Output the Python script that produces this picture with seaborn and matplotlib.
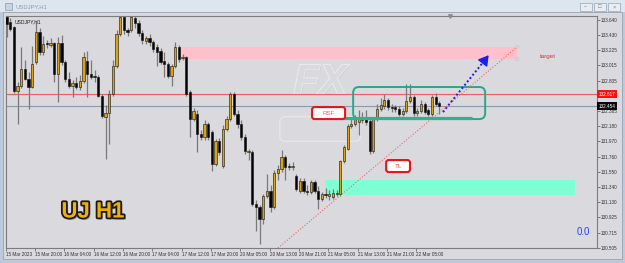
import numpy as np
import pandas as pd
import matplotlib
matplotlib.use("Agg")
import matplotlib.pyplot as plt
import matplotlib.patheffects as pe
from matplotlib.patches import Rectangle, FancyBboxPatch
import seaborn as sns

# ---------------- data (USDJPY H1) ----------------
opens = [133.681, 133.612, 133.544, 132.663, 132.731, 132.965, 132.828, 132.718, 133.061, 133.474,
         133.199, 133.324, 133.296, 133.324, 132.897, 133.324, 133.061, 132.828, 132.731, 132.773,
         132.718, 132.800, 133.075, 132.897, 132.869, 132.856, 132.594, 132.305, 132.360, 132.622,
         133.006, 133.447, 133.681, 133.502, 133.502, 133.667, 133.599, 133.461, 133.351, 133.392,
         133.337, 133.269, 133.213, 133.075, 133.034, 132.869, 133.006, 133.269, 133.117, 133.131,
         132.649, 132.277, 132.346, 132.071, 132.030, 132.209, 132.098, 131.658, 131.975, 131.630,
         132.139, 132.277, 132.622, 132.346, 132.209, 132.030, 131.823, 131.823, 131.108, 131.067,
         130.901, 131.218, 131.287, 131.067, 131.534, 131.589, 131.754, 131.630, 131.616, 131.493,
         131.287, 131.424, 131.287, 131.273, 131.411, 131.287, 131.177, 131.246, 131.218, 131.204,
         131.246, 131.246, 131.699, 131.865, 132.181, 132.209, 132.236, 132.264, 132.277, 132.250,
         131.837, 132.277, 132.415, 132.456, 132.539, 132.442, 132.442, 132.415, 132.346, 132.387,
         132.525, 132.581, 132.360, 132.387, 132.484, 132.401, 132.346, 132.581, 132.498]
highs = [133.708, 133.667, 133.557, 132.786, 133.269, 133.089, 132.924, 133.282, 133.626, 133.530,
         133.419, 133.365, 133.392, 133.337, 133.406, 133.433, 133.089, 132.924, 132.814, 132.856,
         132.883, 133.199, 133.213, 133.089, 132.952, 132.883, 132.622, 132.470, 132.677, 133.089,
         133.502, 133.694, 133.694, 133.530, 133.694, 133.694, 133.640, 133.502, 133.419, 133.447,
         133.365, 133.310, 133.255, 133.199, 133.061, 133.034, 133.337, 133.296, 133.172, 133.144,
         132.677, 132.429, 132.401, 132.126, 132.264, 132.236, 132.126, 132.003, 132.016, 132.195,
         132.318, 132.649, 132.649, 132.401, 132.264, 132.071, 131.865, 131.851, 131.163, 131.094,
         131.246, 131.521, 131.369, 131.576, 131.644, 131.851, 131.782, 131.671, 131.685, 131.521,
         131.466, 131.466, 131.369, 131.438, 131.438, 131.356, 131.273, 131.328, 131.301, 131.314,
         131.301, 131.713, 131.920, 132.209, 132.277, 132.332, 132.401, 132.373, 132.401, 132.291,
         132.305, 132.484, 132.567, 132.622, 132.567, 132.484, 132.470, 132.456, 132.429, 132.759,
         132.759, 132.608, 132.429, 132.539, 132.511, 132.429, 132.608, 132.636, 132.525]
lows = [133.406, 133.488, 132.636, 132.209, 132.704, 132.814, 132.415, 132.704, 133.034, 133.158,
        133.158, 133.255, 133.269, 132.786, 132.511, 133.020, 132.786, 132.704, 132.581, 132.690,
        132.677, 132.773, 132.581, 132.828, 132.786, 132.581, 132.291, 131.727, 131.934, 132.594,
        132.979, 133.419, 133.447, 133.419, 133.474, 133.530, 133.419, 133.310, 133.310, 133.282,
        133.199, 133.006, 133.034, 132.856, 132.842, 132.731, 132.979, 133.061, 133.089, 132.594,
        132.030, 132.250, 131.823, 131.989, 131.989, 131.989, 131.562, 131.630, 131.782, 131.603,
        132.112, 132.250, 132.318, 132.154, 131.989, 131.796, 131.713, 131.080, 130.736, 130.558,
        130.833, 131.191, 130.998, 131.039, 131.438, 131.548, 131.438, 131.576, 131.576, 131.287,
        131.259, 131.259, 131.232, 131.246, 131.259, 131.039, 131.149, 131.191, 131.163, 131.177,
        131.218, 131.218, 131.671, 131.851, 132.154, 132.181, 132.057, 132.222, 132.195, 131.796,
        131.810, 132.250, 132.387, 132.415, 132.401, 132.373, 132.373, 132.318, 132.318, 132.360,
        132.498, 132.318, 132.318, 132.360, 132.346, 132.318, 132.318, 132.456, 132.346]
closes = [133.585, 133.516, 132.663, 132.731, 132.965, 132.828, 132.718, 133.034, 133.474, 133.199,
          133.310, 133.310, 133.324, 132.897, 133.324, 133.061, 132.828, 132.731, 132.773, 132.718,
          132.800, 133.131, 132.897, 132.856, 132.856, 132.594, 132.318, 132.360, 132.622, 133.006,
          133.447, 133.681, 133.502, 133.474, 133.681, 133.599, 133.461, 133.365, 133.392, 133.337,
          133.241, 133.199, 133.061, 133.034, 132.869, 133.006, 133.269, 133.103, 133.131, 132.622,
          132.277, 132.387, 132.071, 132.030, 132.209, 132.030, 131.658, 131.975, 131.823, 132.139,
          132.277, 132.622, 132.346, 132.209, 132.030, 131.837, 131.837, 131.108, 131.067, 130.901,
          131.218, 131.287, 131.067, 131.534, 131.589, 131.754, 131.616, 131.616, 131.630, 131.314,
          131.424, 131.287, 131.273, 131.411, 131.287, 131.177, 131.246, 131.232, 131.246, 131.259,
          131.259, 131.699, 131.892, 132.181, 132.209, 132.277, 132.277, 132.277, 132.236, 131.837,
          132.277, 132.415, 132.470, 132.539, 132.442, 132.429, 132.415, 132.346, 132.387, 132.525,
          132.581, 132.360, 132.387, 132.484, 132.373, 132.346, 132.581, 132.484, 132.456]

time_labels = ["15 Mar 2023", "15 Mar 20:00", "16 Mar 04:00", "16 Mar 12:00", "16 Mar 20:00",
               "17 Mar 04:00", "17 Mar 12:00", "17 Mar 20:00", "20 Mar 05:00", "20 Mar 13:00",
               "20 Mar 21:00", "21 Mar 05:00", "21 Mar 13:00", "21 Mar 21:00", "22 Mar 05:00"]
price_ticks = [133.640, 133.430, 133.225, 133.015, 132.805, 132.595, 132.385, 132.180,
               131.970, 131.760, 131.550, 131.340, 131.130, 130.925, 130.715, 130.505]
resistance_level = 132.617
bid_level = 132.454
supply_zone = [133.103, 133.269]
demand_zone = [131.232, 131.438]
range_box = [132.277, 132.718]
range_floor = 132.298
trend_prices = [130.503, 133.269]
projection_prices = [132.373, 133.186]

# ---------------- figure ----------------
sns.set_theme(style="white")
plt.rcParams["font.family"] = ["Liberation Sans", "DejaVu Sans"]

W, H = 625, 263
fig = plt.figure(figsize=(W / 100, H / 100), dpi=100)
fig.patch.set_facecolor("#bccadb")


def rect_px(x0, y0, x1, y1, z=-10, **kw):
    r = Rectangle((x0 / W, 1 - y1 / H), (x1 - x0) / W, (y1 - y0) / H,
                  transform=fig.transFigure, zorder=z, **kw)
    fig.add_artist(r)
    return r


# window chrome
rect_px(0, 0, 625, 12, fc="#dde5ef", ec="none")
rect_px(3, 12, 622, 259, fc="#d9d9de", ec="#98a4b4", lw=0.6)
rect_px(5, 3, 12, 10, fc="#c9d3df", ec="#8f9db0", lw=0.5)
fig.text(15 / W, 1 - 6.5 / H, "USDJPY,H1", fontsize=4.2, color="#8e9aab", va="center")
for bx, sym in [(580, "–"), (594, "□"), (608, "×")]:
    rect_px(bx, 3, bx + 12, 11, fc="#e8edf3", ec="#98a5b7", lw=0.5)
    fig.text((bx + 6) / W, 1 - 7 / H, sym, fontsize=4, color="#6f7c8e", ha="center", va="center")

ax = fig.add_axes([5.5 / W, 1 - 248 / H, (597 - 5.5) / W, (248 - 16) / H])
ax.set_facecolor("#d9d9de")
ax.set_zorder(1)

df = pd.DataFrame({"o": opens, "h": highs, "l": lows, "c": closes})
df["i"] = np.arange(len(df))
bull = df["c"] >= df["o"]

# zones
ax.add_patch(Rectangle((47.6, supply_zone[0]), 139.2 - 47.6, supply_zone[1] - supply_zone[0],
                       fc="#ffc0cb", ec="none", zorder=1))
ax.add_patch(Rectangle((86.9, demand_zone[0]), 155.0 - 86.9, demand_zone[1] - demand_zone[0],
                       fc="#7fffd4", ec="none", zorder=1))

# watermark (embossed logo)
ax.text(85.5, 132.78, "FX", fontsize=30, fontweight="bold", fontstyle="italic",
        color="#d9d9de", ha="center", va="center", zorder=1.5,
        path_effects=[pe.withSimplePatchShadow(offset=(0.8, -0.8), shadow_rgbFace="#b8b8bd", alpha=0.6),
                      pe.withStroke(linewidth=1.3, foreground="#ececf0")])
ax.add_patch(FancyBboxPatch((74.5, 131.97), 22, 0.34,
                            boxstyle="round,pad=0,rounding_size=1.5", mutation_aspect=0.0505,
                            fc="none", ec="#e6e6ea", lw=1.0, zorder=1.5))

# horizontal levels
ax.axhline(resistance_level, color="#f25c5c", lw=0.8, zorder=2)
ax.axhline(bid_level, color="#8d9aa8", lw=0.8, zorder=2)

# candles
ax.vlines(df["i"], df["l"], df["h"], color="#7a7a7a", lw=0.9, zorder=3)
body = (df["c"] - df["o"]).where((df["c"] - df["o"]).abs() > 0.004,
                                 np.sign(df["c"] - df["o"] + 1e-9) * 0.004)
ax.bar(df["i"], body, bottom=df["o"], width=0.62,
       color=np.where(bull, "#d9a21b", "#050505"), edgecolor="#111111", linewidth=0.4, zorder=4)

# range box
ax.add_patch(FancyBboxPatch((94.5, range_box[0]), 130.5 - 94.5, range_box[1] - range_box[0],
                            boxstyle="round,pad=0,rounding_size=1.6", mutation_aspect=0.0505,
                            fc="none", ec="#27a88b", lw=1.4, zorder=5))
ax.plot([90.9, 126.9], [range_floor, range_floor], color="#2db38e", lw=2.3,
        solid_capstyle="butt", zorder=5)

# trend line and projection
trend = pd.DataFrame({"x": [74.0, 139.2], "y": trend_prices})
sns.lineplot(data=trend, x="x", y="y", ax=ax, color="#f06868", lw=0.8,
             linestyle=(0, (1, 1.6)), zorder=6)
ax.plot([139.2], [trend_prices[1]], marker="s", ms=1.6, mfc="white", mec="#999999", mew=0.3, zorder=7)
ax.plot([139.2], [supply_zone[0]], marker="s", ms=1.6, mfc="white", mec="#999999", mew=0.3, zorder=7)
proj = pd.DataFrame({"x": [119.0, 131.4], "y": [projection_prices[0], 133.150]})
sns.lineplot(data=proj, x="x", y="y", ax=ax, color="#1c1cf0", lw=1.4,
             linestyle=(0, (1, 1.2)), zorder=6)
ax.annotate("", xy=(131.9, projection_prices[1]), xytext=(130.6, 133.100),
            arrowprops=dict(arrowstyle="-|>,head_length=0.5,head_width=0.3", color="#1c1cf0", lw=1.0),
            zorder=7)

# label boxes
for x0, x1, y0, y1, txt in [(83.3, 92.3, 132.277, 132.442, "RSF"),
                            (103.5, 110.0, 131.548, 131.713, "TL")]:
    ax.add_patch(FancyBboxPatch((x0, y0), x1 - x0, y1 - y0,
                                boxstyle="round,pad=0,rounding_size=0.7", mutation_aspect=0.0505,
                                fc="white", ec="#e8151b", lw=1.5, zorder=8))
    ax.text((x0 + x1) / 2, (y0 + y1) / 2, txt, fontsize=4.5, color="#ee5a5a",
            ha="center", va="center", zorder=9)

ax.text(147.7, 133.144, "target", fontsize=4.5, color="#cc3b3b", ha="center", va="center", zorder=9)
ax.text(0.015, 0.985, "USDJPY,H1", transform=ax.transAxes, fontsize=3.6, color="#222222",
        ha="left", va="top", zorder=9)

# axes formatting
ax.set_xlim(-0.27, 161.0)
ax.set_ylim(130.503, 133.695)
ax.set_xlabel("")
ax.set_ylabel("")
ax.yaxis.tick_right()
ax.set_yticks(price_ticks)
ax.set_yticklabels([f"{v:.3f}" for v in price_ticks], fontsize=3.3, color="#333333")
ax.set_xticks(np.arange(len(time_labels)) * 8 - 0.3)
ax.set_xticklabels(time_labels, fontsize=3.3, color="#333333", ha="left")
ax.tick_params(axis="both", direction="out", length=2, width=0.5, color="#555555", pad=1)
ax.tick_params(axis="y", right=True, left=False)
ax.tick_params(axis="x", bottom=True)
for s in ax.spines.values():
    s.set_color("#7d7d7d")
    s.set_linewidth(0.8)
# hide the tick label hidden behind the resistance tag
for lab, v in zip(ax.get_yticklabels(), price_ticks):
    if abs(v - resistance_level) < 0.05:
        lab.set_visible(False)

# price tags on the axis
ax.text(1.003, resistance_level, "132.617", transform=ax.get_yaxis_transform(), fontsize=3.3,
        color="white", ha="left", va="center", zorder=10,
        bbox=dict(boxstyle="square,pad=0.35", fc="#ff1010", ec="none"))
ax.text(1.003, bid_level, "132.454", transform=ax.get_yaxis_transform(), fontsize=3.3,
        color="white", ha="left", va="center", zorder=10,
        bbox=dict(boxstyle="square,pad=0.35", fc="#0a0a0a", ec="none"))
ax.plot([0.752], [1.0], marker="v", ms=2.5, color="#888888", transform=ax.transAxes,
        clip_on=False, zorder=10)

# overlay texts
fig.text(93 / W, 1 - 212 / H, "UJ H1", fontsize=16, fontweight="bold", color="#f4b000",
         ha="center", va="center", zorder=20,
         path_effects=[pe.withSimplePatchShadow(offset=(1.5, -1.5), shadow_rgbFace="#555555", alpha=0.5),
                       pe.withStroke(linewidth=2.6, foreground="#1a1a1a")])
fig.text(583 / W, 1 - 232 / H, "0.0", fontsize=7, color="#2a46ff", ha="center", va="center", zorder=20)

fig.savefig("out.png", dpi=100, facecolor=fig.get_facecolor())
